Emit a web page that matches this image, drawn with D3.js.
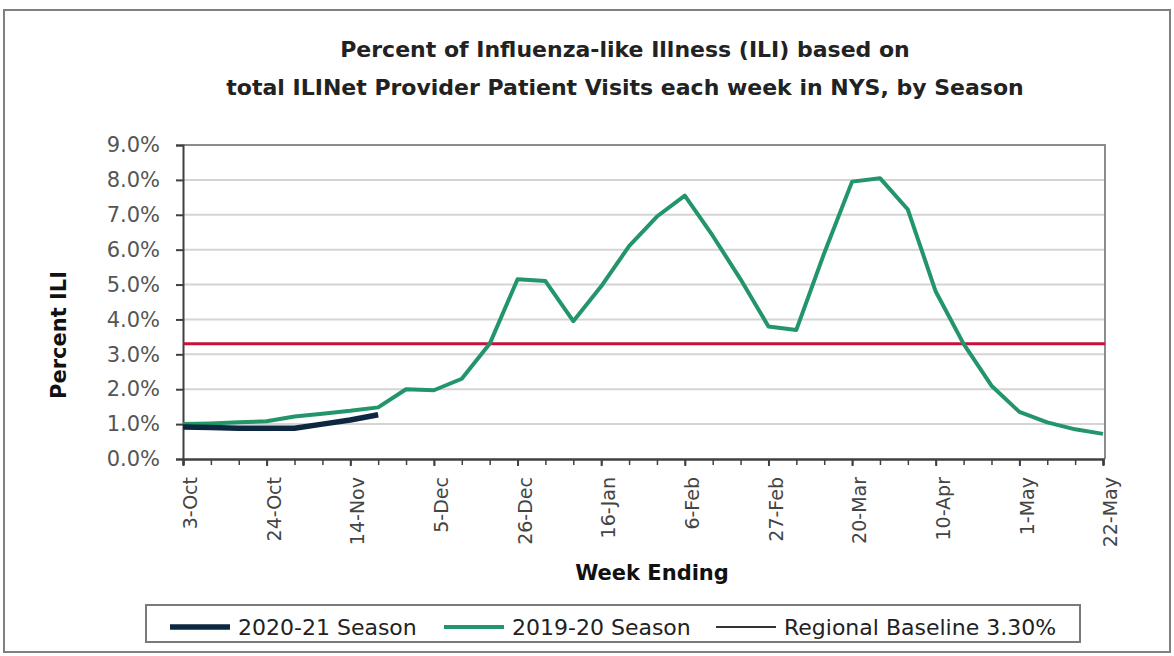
<!DOCTYPE html>
<html>
<head>
<meta charset="utf-8">
<script src="https://d3js.org/d3.v7.min.js"></script>
<style>
body { margin: 0; background: #fff; }
svg { display: block; }
</style>
</head>
<body>
<div id="chart"></div>
<script>
  // week ending dates, one per week
  var weeks = ["3-Oct", "10-Oct", "17-Oct", "24-Oct", "31-Oct", "7-Nov", "14-Nov", "21-Nov", "28-Nov",
    "5-Dec", "12-Dec", "19-Dec", "26-Dec", "2-Jan", "9-Jan", "16-Jan", "23-Jan", "30-Jan",
    "6-Feb", "13-Feb", "20-Feb", "27-Feb", "6-Mar", "13-Mar", "20-Mar", "27-Mar",
    "3-Apr", "10-Apr", "17-Apr", "24-Apr", "1-May", "8-May", "15-May", "22-May"];
  var labelWeeks = ["3-Oct", "24-Oct", "14-Nov", "5-Dec", "26-Dec", "16-Jan", "6-Feb",
    "27-Feb", "20-Mar", "10-Apr", "1-May", "22-May"];

  // percent ILI
  var season1920 = [1.0, 1.02, 1.05, 1.08, 1.22, 1.3, 1.38, 1.48, 2.0, 1.97, 2.3, 3.3,
    5.15, 5.1, 3.95, 4.95, 6.1, 6.95, 7.55, 6.4, 5.15, 3.8, 3.7, 5.9, 7.95, 8.05,
    7.15, 4.8, 3.3, 2.1, 1.35, 1.05, 0.85, 0.72];
  var season2021 = [0.92, 0.9, 0.88, 0.88, 0.88, 1.0, 1.12, 1.27];
  var baseline = 3.3;
  var yTicks = [0, 1, 2, 3, 4, 5, 6, 7, 8, 9];

  var width = 1174, height = 656;
  var plotLeft = 183, plotRight = 1103, plotTop = 145, plotBottom = 459;
  var font = "'DejaVu Sans', Verdana, sans-serif";

  var svg = d3.select("#chart").append("svg")
    .attr("width", width)
    .attr("height", height);

  // outer frame
  svg.append("rect")
    .attr("x", 4).attr("y", 10)
    .attr("width", 1166).attr("height", 642)
    .attr("fill", "none")
    .attr("stroke", "#808080")
    .attr("stroke-width", 2);

  var x = d3.scalePoint().domain(weeks).range([plotLeft, plotRight]);
  var y = d3.scaleLinear().domain([0, 9]).range([plotBottom, plotTop]);

  // title
  var title = svg.append("text")
    .attr("text-anchor", "middle")
    .attr("font-family", font)
    .attr("font-weight", "bold")
    .attr("font-size", 22)
    .attr("fill", "#222");
  title.append("tspan").attr("x", 625).attr("y", 57).text("Percent of Influenza-like Illness (ILI) based on");
  title.append("tspan").attr("x", 625).attr("y", 95).text("total ILINet Provider Patient Visits each week in NYS, by Season");

  // gridlines
  svg.append("g").selectAll("line")
    .data(yTicks.filter(function(d) { return d > 0 && d < 9; }))
    .enter().append("line")
    .attr("x1", plotLeft).attr("x2", plotRight + 2)
    .attr("y1", function(d) { return y(d); })
    .attr("y2", function(d) { return y(d); })
    .attr("stroke", "#d4d4d4")
    .attr("stroke-width", 2);

  // plot border (top and right)
  svg.append("path")
    .attr("d", "M" + plotLeft + "," + y(9) + "H" + (plotRight + 2) + "V" + plotBottom)
    .attr("fill", "none")
    .attr("stroke", "#8c8c8c")
    .attr("stroke-width", 2);

  // y axis
  var yAxis = svg.append("g")
    .attr("transform", "translate(" + plotLeft + ",0)")
    .call(d3.axisLeft(y).tickValues(yTicks).tickSize(7).tickPadding(16)
      .tickFormat(function(d) { return d.toFixed(1) + "%"; }));
  yAxis.select(".domain").attr("stroke", "#404040").attr("stroke-width", 2);
  yAxis.selectAll(".tick line").attr("stroke", "#404040").attr("stroke-width", 2);
  yAxis.selectAll("text")
    .attr("font-family", font)
    .attr("font-size", 21)
    .attr("fill", "#555");

  // x axis: minor ticks every week, labels every third week
  var xMinor = svg.append("g")
    .attr("transform", "translate(0," + plotBottom + ")")
    .call(d3.axisBottom(x).tickSize(6).tickFormat(""));
  xMinor.select(".domain").attr("stroke", "#404040").attr("stroke-width", 2.5);
  xMinor.selectAll(".tick line").attr("stroke", "#404040").attr("stroke-width", 1.5);

  var xAxis = svg.append("g")
    .attr("transform", "translate(0," + plotBottom + ")")
    .call(d3.axisBottom(x).tickValues(labelWeeks).tickSize(7).tickPadding(0));
  xAxis.select(".domain").remove();
  xAxis.selectAll(".tick line").attr("stroke", "#404040").attr("stroke-width", 2);
  xAxis.selectAll("text")
    .attr("font-family", font)
    .attr("font-size", 19)
    .attr("fill", "#444")
    .attr("text-anchor", "end")
    .attr("dy", "0.35em")
    .attr("transform", "translate(0,18) rotate(-90)");

  // axis titles
  svg.append("text")
    .attr("transform", "translate(66,335) rotate(-90)")
    .attr("text-anchor", "middle")
    .attr("font-family", font)
    .attr("font-weight", "bold")
    .attr("font-size", 21)
    .attr("fill", "#111")
    .text("Percent ILI");

  svg.append("text")
    .attr("x", 652).attr("y", 580)
    .attr("text-anchor", "middle")
    .attr("font-family", font)
    .attr("font-weight", "bold")
    .attr("font-size", 21)
    .attr("fill", "#111")
    .text("Week Ending");

  // baseline
  svg.append("line")
    .attr("x1", plotLeft).attr("x2", plotRight + 2)
    .attr("y1", y(baseline)).attr("y2", y(baseline))
    .attr("stroke", "#c8103a")
    .attr("stroke-width", 3);

  var line = d3.line()
    .x(function(d, i) { return x(weeks[i]); })
    .y(function(d) { return y(d); });

  svg.append("path")
    .datum(season1920)
    .attr("d", line)
    .attr("fill", "none")
    .attr("stroke", "#22966a")
    .attr("stroke-width", 4)
    .attr("stroke-linejoin", "round");

  svg.append("path")
    .datum(season2021)
    .attr("d", line)
    .attr("fill", "none")
    .attr("stroke", "#0e2740")
    .attr("stroke-width", 5.5)
    .attr("stroke-linejoin", "round");

  // legend
  var legendItems = [
    { label: "2020-21 Season", color: "#0e2740", w: 5.5, x: 170 },
    { label: "2019-20 Season", color: "#22966a", w: 4, x: 444 },
    { label: "Regional Baseline 3.30%", color: "#333", w: 2, x: 716 }
  ];
  svg.append("rect")
    .attr("x", 146).attr("y", 605)
    .attr("width", 934).attr("height", 37)
    .attr("fill", "#fff")
    .attr("stroke", "#7a7a7a")
    .attr("stroke-width", 2);
  var lg = svg.append("g").selectAll("g")
    .data(legendItems).enter().append("g")
    .attr("transform", function(d) { return "translate(" + d.x + ",627)"; });
  lg.append("line")
    .attr("x1", 0).attr("x2", 60)
    .attr("stroke", function(d) { return d.color; })
    .attr("stroke-width", function(d) { return d.w; });
  lg.append("text")
    .attr("x", 68).attr("y", 0).attr("dy", "0.35em")
    .attr("font-family", font)
    .attr("font-size", 22)
    .attr("fill", "#222")
    .text(function(d) { return d.label; });
</script>
</body>
</html>
